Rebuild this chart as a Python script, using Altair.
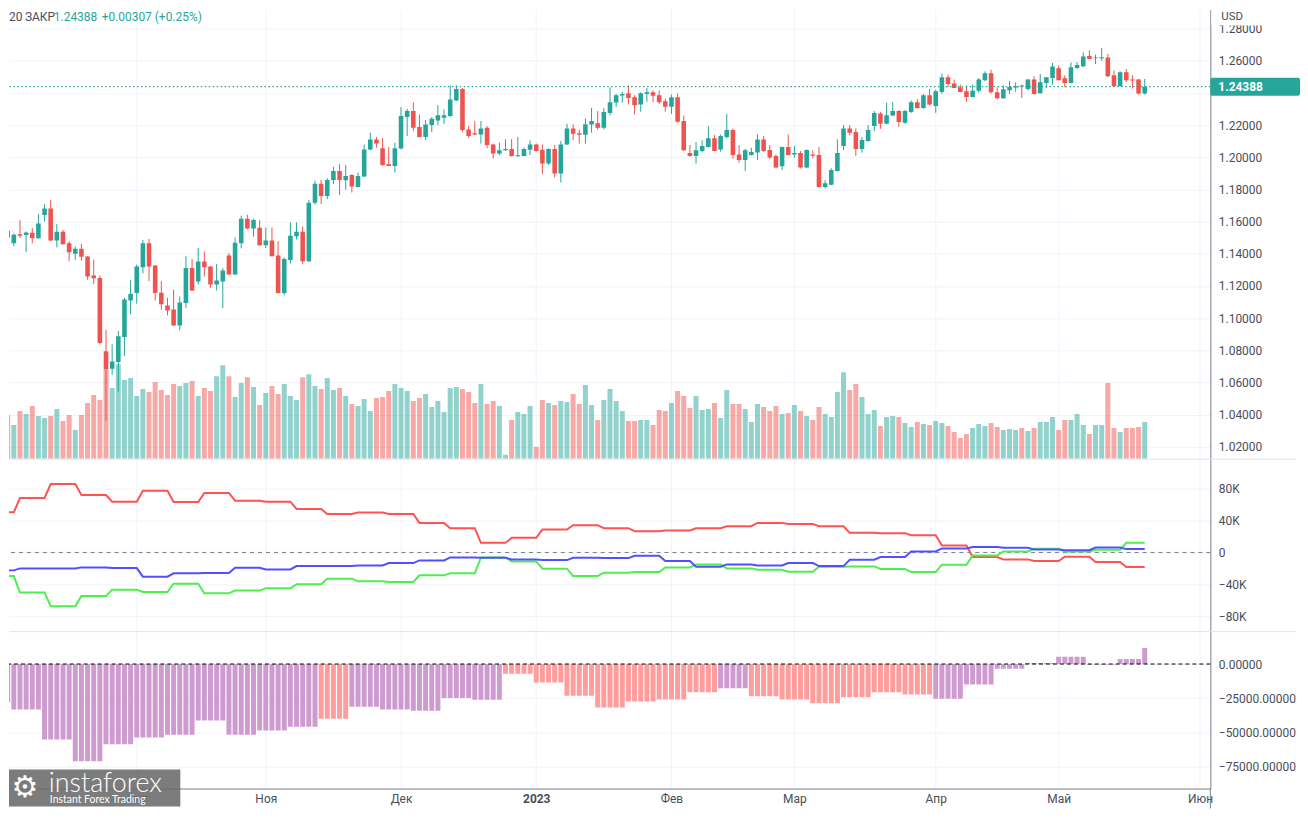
import altair as alt
import pandas as pd
import numpy as np

# ---------------- data (GBP/USD daily) ----------------
open_ = [
    1.1622, 1.1544, 1.1465, 1.1521, 1.1517, 1.1531, 1.1496, 1.1641, 1.1682, 1.1482,
    1.1537, 1.1465, 1.1401, 1.1432, 1.1383, 1.1265, 1.1250, 1.0794, 1.0685, 1.0728,
    1.0883, 1.1110, 1.1156, 1.1317, 1.1465, 1.1327, 1.1158, 1.1079, 1.1054, 1.0955,
    1.1094, 1.1312, 1.1228, 1.1352, 1.1321, 1.1209, 1.1228, 1.1389, 1.1271, 1.1465,
    1.1618, 1.1558, 1.1562, 1.1453, 1.1482, 1.1389, 1.1156, 1.1362, 1.1509, 1.1537,
    1.1354, 1.1717, 1.1835, 1.1760, 1.1858, 1.1915, 1.1857, 1.1890, 1.1816, 1.1880,
    1.2049, 1.2111, 1.2056, 1.1956, 1.1946, 1.2054, 1.2250, 1.2287, 1.2188, 1.2126,
    1.2200, 1.2229, 1.2245, 1.2256, 1.2353, 1.2425, 1.2173, 1.2150, 1.2142, 1.2184,
    1.2080, 1.2023, 1.2043, 1.2051, 1.2008, 1.2008, 1.2047, 1.2080, 1.2047, 1.1961,
    1.2051, 1.1899, 1.2080, 1.2179, 1.2150, 1.2140, 1.2204, 1.2212, 1.2184, 1.2276,
    1.2340, 1.2384, 1.2398, 1.2373, 1.2328, 1.2394, 1.2404, 1.2386, 1.2349, 1.2314,
    1.2373, 1.2225, 1.2027, 1.2008, 1.2039, 1.2064, 1.2118, 1.2049, 1.2126, 1.2169,
    1.2018, 1.1983, 1.2014, 1.2029, 1.2111, 1.2045, 1.2008, 1.1944, 1.2064, 1.2018,
    1.2027, 1.1936, 1.2018, 1.2014, 1.1816, 1.1829, 1.1915, 1.2070, 1.2179, 1.2157,
    1.2051, 1.2101, 1.2194, 1.2272, 1.2208, 1.2260, 1.2287, 1.2214, 1.2281, 1.2342,
    1.2307, 1.2386, 1.2318, 1.2406, 1.2497, 1.2458, 1.2435, 1.2410, 1.2375, 1.2414,
    1.2479, 1.2522, 1.2404, 1.2367, 1.2417, 1.2433, 1.2446, 1.2425, 1.2483, 1.2398,
    1.2462, 1.2493, 1.2553, 1.2491, 1.2462, 1.2555, 1.2566, 1.2629, 1.2615, 1.2617,
    1.2621, 1.2510, 1.2442, 1.2528, 1.2483, 1.2483, 1.2396,
]
high = [
    1.1626, 1.1585, 1.1527, 1.1610, 1.1539, 1.1560, 1.1647, 1.1709, 1.1734, 1.1585,
    1.1548, 1.1478, 1.1445, 1.1461, 1.1385, 1.1364, 1.1265, 1.0928, 1.0838, 1.0920,
    1.1127, 1.1238, 1.1333, 1.1486, 1.1492, 1.1329, 1.1230, 1.1127, 1.1178, 1.1135,
    1.1385, 1.1368, 1.1436, 1.1414, 1.1323, 1.1337, 1.1310, 1.1405, 1.1502, 1.1637,
    1.1643, 1.1618, 1.1610, 1.1562, 1.1564, 1.1478, 1.1378, 1.1595, 1.1595, 1.1570,
    1.1734, 1.1855, 1.1860, 1.1870, 1.1940, 1.1957, 1.1952, 1.1895, 1.1905, 1.2080,
    1.2153, 1.2126, 1.2118, 1.2064, 1.2091, 1.2311, 1.2301, 1.2342, 1.2266, 1.2231,
    1.2250, 1.2324, 1.2297, 1.2446, 1.2448, 1.2431, 1.2194, 1.2225, 1.2225, 1.2194,
    1.2085, 1.2091, 1.2111, 1.2113, 1.2126, 1.2060, 1.2105, 1.2085, 1.2080, 1.2056,
    1.2076, 1.2101, 1.2208, 1.2204, 1.2173, 1.2241, 1.2307, 1.2287, 1.2307, 1.2435,
    1.2394, 1.2406, 1.2448, 1.2386, 1.2404, 1.2431, 1.2415, 1.2415, 1.2365, 1.2390,
    1.2396, 1.2260, 1.2076, 1.2095, 1.2105, 1.2194, 1.2138, 1.2142, 1.2270, 1.2179,
    1.2076, 1.2053, 1.2060, 1.2142, 1.2132, 1.2076, 1.2018, 1.2066, 1.2142, 1.2070,
    1.2039, 1.2049, 1.2043, 1.2064, 1.1857, 1.1932, 1.2111, 1.2200, 1.2200, 1.2179,
    1.2126, 1.2200, 1.2287, 1.2283, 1.2338, 1.2342, 1.2293, 1.2295, 1.2353, 1.2363,
    1.2394, 1.2425, 1.2421, 1.2520, 1.2514, 1.2483, 1.2452, 1.2446, 1.2452, 1.2493,
    1.2534, 1.2545, 1.2435, 1.2446, 1.2473, 1.2466, 1.2452, 1.2487, 1.2504, 1.2518,
    1.2497, 1.2586, 1.2570, 1.2510, 1.2590, 1.2592, 1.2652, 1.2665, 1.2638, 1.2679,
    1.2642, 1.2539, 1.2535, 1.2549, 1.2510, 1.2487, 1.2487,
]
low = [
    1.1502, 1.1498, 1.1447, 1.1498, 1.1410, 1.1465, 1.1494, 1.1601, 1.1480, 1.1440,
    1.1457, 1.1354, 1.1362, 1.1358, 1.1238, 1.1211, 1.0838, 1.0363, 1.0646, 1.0543,
    1.0766, 1.1024, 1.1090, 1.1279, 1.1230, 1.1110, 1.1052, 1.1017, 1.0953, 1.0924,
    1.1064, 1.1170, 1.1209, 1.1259, 1.1189, 1.1172, 1.1063, 1.1269, 1.1269, 1.1434,
    1.1552, 1.1506, 1.1451, 1.1436, 1.1383, 1.1154, 1.1143, 1.1340, 1.1490, 1.1337,
    1.1348, 1.1705, 1.1710, 1.1740, 1.1833, 1.1765, 1.1798, 1.1781, 1.1812, 1.1878,
    1.2043, 1.2060, 1.1946, 1.1944, 1.1905, 1.2049, 1.2132, 1.2163, 1.2124, 1.2107,
    1.2157, 1.2200, 1.2208, 1.2250, 1.2349, 1.2159, 1.2122, 1.2138, 1.2085, 1.2056,
    1.1992, 1.2014, 1.2039, 1.2004, 1.2004, 1.2005, 1.2014, 1.2035, 1.1895, 1.1952,
    1.1874, 1.1843, 1.2076, 1.2107, 1.2085, 1.2085, 1.2153, 1.2171, 1.2173, 1.2260,
    1.2314, 1.2339, 1.2328, 1.2266, 1.2283, 1.2345, 1.2342, 1.2332, 1.2283, 1.2270,
    1.2215, 1.2039, 1.2004, 1.1961, 1.2029, 1.2060, 1.2037, 1.2035, 1.2115, 1.1992,
    1.1967, 1.1915, 1.2010, 1.1983, 1.2033, 1.1987, 1.1932, 1.1921, 1.2012, 1.1998,
    1.1930, 1.1932, 1.1994, 1.1812, 1.1806, 1.1825, 1.1911, 1.2045, 1.2136, 1.2008,
    1.2029, 1.2097, 1.2163, 1.2177, 1.2204, 1.2256, 1.2190, 1.2208, 1.2276, 1.2301,
    1.2301, 1.2322, 1.2276, 1.2394, 1.2435, 1.2430, 1.2404, 1.2345, 1.2373, 1.2401,
    1.2473, 1.2396, 1.2359, 1.2363, 1.2394, 1.2407, 1.2369, 1.2415, 1.2390, 1.2396,
    1.2431, 1.2452, 1.2477, 1.2435, 1.2460, 1.2549, 1.2559, 1.2610, 1.2580, 1.2600,
    1.2499, 1.2440, 1.2440, 1.2468, 1.2427, 1.2390, 1.2390,
]
close = [
    1.1540, 1.1502, 1.1519, 1.1513, 1.1533, 1.1496, 1.1589, 1.1682, 1.1482, 1.1537,
    1.1459, 1.1410, 1.1432, 1.1381, 1.1259, 1.1248, 1.0846, 1.0683, 1.0730, 1.0887,
    1.1116, 1.1151, 1.1321, 1.1465, 1.1321, 1.1156, 1.1086, 1.1048, 1.0955, 1.1098,
    1.1312, 1.1172, 1.1352, 1.1317, 1.1209, 1.1234, 1.1296, 1.1271, 1.1469, 1.1618,
    1.1558, 1.1610, 1.1453, 1.1482, 1.1385, 1.1156, 1.1368, 1.1513, 1.1537, 1.1354,
    1.1717, 1.1835, 1.1760, 1.1858, 1.1915, 1.1858, 1.1884, 1.1818, 1.1884, 1.2049,
    1.2111, 1.2085, 1.1952, 1.1946, 1.2056, 1.2256, 1.2287, 1.2184, 1.2126, 1.2204,
    1.2239, 1.2262, 1.2262, 1.2359, 1.2425, 1.2169, 1.2132, 1.2142, 1.2179, 1.2076,
    1.2023, 1.2043, 1.2051, 1.2008, 1.2012, 1.2051, 1.2080, 1.2039, 1.1961, 1.2051,
    1.1899, 1.2080, 1.2179, 1.2146, 1.2140, 1.2206, 1.2225, 1.2184, 1.2281, 1.2342,
    1.2386, 1.2394, 1.2369, 1.2324, 1.2398, 1.2404, 1.2382, 1.2342, 1.2314, 1.2373,
    1.2221, 1.2043, 1.2008, 1.2043, 1.2070, 1.2118, 1.2039, 1.2132, 1.2169, 1.2014,
    1.1983, 1.2043, 1.2033, 1.2111, 1.2039, 1.1998, 1.1936, 1.2064, 1.2014, 1.2027,
    1.1936, 1.2045, 1.2010, 1.1816, 1.1839, 1.1921, 1.2027, 1.2179, 1.2153, 1.2051,
    1.2107, 1.2169, 1.2276, 1.2208, 1.2262, 1.2287, 1.2219, 1.2287, 1.2342, 1.2307,
    1.2386, 1.2328, 1.2411, 1.2497, 1.2456, 1.2431, 1.2406, 1.2375, 1.2414, 1.2483,
    1.2522, 1.2404, 1.2367, 1.2423, 1.2437, 1.2442, 1.2440, 1.2483, 1.2394, 1.2466,
    1.2497, 1.2565, 1.2479, 1.2462, 1.2559, 1.2574, 1.2627, 1.2611, 1.2621, 1.2621,
    1.2503, 1.2442, 1.2528, 1.2479, 1.2479, 1.2396, 1.24388,
]
# tick volume (thousands)
volume_k = [
    45, 44, 34, 48, 45, 53, 43, 41, 43, 50, 38, 44, 29, 44, 56, 64, 59, 90, 71, 95,
    79, 81, 63, 70, 67, 77, 69, 64, 75, 73, 76, 78, 63, 71, 68, 83, 94, 83, 62, 76,
    82, 72, 54, 66, 73, 65, 75, 63, 59, 82, 85, 73, 70, 81, 69, 71, 63, 55, 53, 60,
    48, 61, 62, 68, 75, 71, 68, 58, 61, 65, 52, 58, 47, 71, 72, 70, 67, 56, 75, 55,
    58, 53, 4, 39, 47, 45, 53, 12, 59, 56, 54, 58, 57, 65, 55, 74, 54, 39, 59, 70,
    58, 48, 38, 38, 39, 39, 34, 49, 48, 56, 68, 63, 51, 63, 49, 50, 56, 41, 69, 55,
    55, 50, 37, 55, 52, 48, 53, 45, 46, 54, 48, 43, 39, 52, 45, 42, 67, 87, 69, 75,
    62, 45, 49, 33, 42, 43, 42, 36, 32, 37, 35, 34, 38, 36, 33, 27, 21, 25, 31, 35,
    33, 36, 32, 29, 30, 29, 31, 28, 31, 37, 37, 42, 29, 39, 39, 45, 34, 25, 34, 34,
    76, 31, 27, 31, 31, 32, 37,
]
# weekly COT positions (steps on Tuesdays)
cot_red_w = [50400, 68300, 85800, 72100, 63700, 77500, 63300, 74600, 65000, 63700,
             54600, 48300, 50000, 48300, 37100, 30400, 12100, 18300, 28700, 34200,
             30400, 26700, 27500, 30400, 32900, 37100, 35800, 32900, 24600, 24200,
             21700, 8700, -5800, -8700, -10800, -5400, -12100, -18300]
cot_green_w = [-29600, -50400, -67500, -54600, -46700, -49600, -39200, -51250, -47900, -45000,
               -40000, -32900, -36250, -37100, -28750, -26250, -6250, -11250, -20400, -29600,
               -25400, -24600, -18750, -15000, -20000, -21700, -24200, -17900, -17500, -20800,
               -24600, -15400, -3750, 1250, 4600, 1250, 3300, 12100]
cot_blue_w = [-22500, -20000, -20000, -18750, -19600, -30400, -26250, -25800, -19200, -21250,
              -17100, -17100, -16250, -13300, -10000, -6250, -6700, -8750, -9600, -6700,
              -7100, -4200, -10800, -17900, -15000, -16250, -13300, -17100, -9200, -5800,
              1250, 5000, 6700, 5800, 3750, 2900, 6250, 4200]
# weekly net-position histogram (steps on Mondays) + latest release
hist_w = [-27950, -33300, -55150, -71200, -58800, -53700, -51750, -41300, -51750, -48600,
          -45900, -40100, -31350, -33300, -34260, -24800, -26240, -7050, -13600, -23300,
          -31850, -27460, -26000, -20650, -17700, -23570, -26000, -28670, -24300, -20650,
          -22350, -25500, -15070, -3400, 700, 5350, -400, 3650]
hist_kind_w = ["p", "p", "p", "p", "p", "p", "p", "p", "p", "p",
               "p", "s", "p", "p", "p", "p", "p", "s", "s", "s",
               "s", "s", "s", "s", "p", "s", "s", "s", "s", "s",
               "s", "p", "p", "p", "p", "p", "p", "p"]
hist_latest = 11660

month_labels = ["Сен", "Окт", "Ноя", "Дек", "2023", "Фев", "Мар", "Апр", "Май", "Июн"]
price_ticks = [1.02, 1.04, 1.06, 1.08, 1.10, 1.12, 1.14, 1.16, 1.18, 1.20, 1.22, 1.24, 1.26, 1.28]
cot_ticks = [-80000, -40000, 0, 40000, 80000]
hist_ticks = [-75000, -50000, -25000, 0]

# ---------------- frames ----------------
N = len(close)
dates = pd.bdate_range("2022-09-01", periods=N)
df = pd.DataFrame({"i": np.arange(N), "date": dates.strftime("%Y-%m-%d"),
                   "open": open_, "high": high, "low": low, "close": close,
                   "vol": volume_k})
df["dir"] = np.where(df["close"] >= df["open"], "up", "down")
lo = np.minimum(df["open"], df["close"])
hi = np.maximum(df["open"], df["close"])
mid = (lo + hi) / 2
thin = (hi - lo) < 0.0006
df["b_lo"] = np.where(thin, mid - 0.0003, lo)
df["b_hi"] = np.where(thin, mid + 0.0003, hi)

wk_line = (df["i"] + 2) // 5
cot = pd.concat([
    pd.DataFrame({"i": df["i"], "v": [cot_red_w[k] for k in wk_line], "s": "a_red"}),
    pd.DataFrame({"i": df["i"], "v": [cot_green_w[k] for k in wk_line], "s": "b_green"}),
    pd.DataFrame({"i": df["i"], "v": [cot_blue_w[k] for k in wk_line], "s": "c_blue"}),
])
wk_hist = np.minimum((df["i"] + 3) // 5, len(hist_w) - 1)
hist = pd.DataFrame({"i": df["i"],
                     "h": [hist_w[k] for k in wk_hist],
                     "k": [hist_kind_w[k] for k in wk_hist]})
hist.loc[hist.index[-1], "h"] = hist_latest
hist.loc[hist.index[-1], "k"] = "p"

all_days = pd.bdate_range("2022-09-01", "2023-06-30")
firsts = all_days.to_series().groupby(all_days.to_period("M")).first()
tick_idx = [int(all_days.get_loc(d)) for d in firsts][:len(month_labels)]
ticks_df = pd.DataFrame({"i": tick_idx, "lab": month_labels})
XDOM = [1.2156, 196.68]
# only months whose start lies inside the visible window get an axis label
lab_idx = [i for i in tick_idx if i >= XDOM[0]]
label_expr = " : ".join(f"datum.value == {i} ? '{l}'" for i, l in zip(tick_idx, month_labels)) + " : ''"
jan_idx = tick_idx[month_labels.index("2023")]

last_close = close[-1]
tag_df = pd.DataFrame({"p": [last_close], "top": [last_close + 0.0056],
                       "bot": [last_close - 0.0056], "lab": [f"{last_close:.5f}"]})

# ---------------- style ----------------
FONT = "Roboto"
TEAL = "#26a69a"
RED = "#ef5350"
GRID = "#f0f3fa"
AXIS = "#787b86"
TXT = "#4a4d57"
SEP = "#e0e3eb"
W = 1206
H1, H2, H3 = 451, 173, 158

xs = alt.Scale(domain=XDOM, nice=False, zero=False, padding=0)
X0 = alt.X("i:Q", scale=xs, axis=None)
dir_scale = alt.Scale(domain=["up", "down"], range=[TEAL, RED])


def right_axis(values, **kw):
    return alt.Axis(orient="right", values=values, grid=True, gridColor=GRID, ticks=False,
                    domain=True, domainColor=AXIS, labelPadding=8, labelFont=FONT,
                    labelFontSize=12, labelColor=TXT, title=None, labelOverlap=False,
                    labelBound=False, labelFlush=False, **kw)


def vgrid():
    return alt.Chart(ticks_df).mark_rule(color=GRID, strokeWidth=1, clip=True).encode(x=X0)


# ---------------- panel 1: price ----------------
price_scale = alt.Scale(domain=[1.01257, 1.29183], nice=False, zero=False, padding=0)
# the label under the last-price tag is hidden (grid line kept)
price_axis = right_axis(price_ticks,
                        labelExpr=f"abs(datum.value - {last_close}) < 0.006 ? '' : format(datum.value, '.5f')")

vol = alt.Chart(df).mark_bar(width=5, opacity=0.5, clip=True).encode(
    x=X0,
    y=alt.Y("vol:Q", scale=alt.Scale(domain=[0, 451], nice=False, padding=0), axis=None),
    color=alt.Color("dir:N", scale=dir_scale, legend=None),
)
wick = alt.Chart(df).mark_rule(strokeWidth=1, clip=True).encode(
    x=X0, y=alt.Y("low:Q", scale=price_scale, axis=price_axis), y2="high:Q",
    color=alt.Color("dir:N", scale=dir_scale, legend=None),
)
body = alt.Chart(df).mark_bar(width=4.6, clip=True).encode(
    x=X0, y=alt.Y("b_lo:Q", scale=price_scale, axis=price_axis), y2="b_hi:Q",
    color=alt.Color("dir:N", scale=dir_scale, legend=None),
)
pline = alt.Chart(tag_df).mark_rule(color=TEAL, strokeDash=[1.5, 2.5], strokeWidth=1.2).encode(
    y=alt.Y("p:Q", scale=price_scale, axis=price_axis))
tag_box = alt.Chart(tag_df).mark_rect(color=TEAL, cornerRadius=2).encode(
    x=alt.value(W), x2=alt.value(W + 90),
    y=alt.Y("top:Q", scale=price_scale, axis=price_axis), y2="bot:Q")
tag_txt = alt.Chart(tag_df).mark_text(align="left", baseline="middle", color="white",
                                       fontWeight="bold", fontSize=12, font=FONT).encode(
    x=alt.value(W + 8), y=alt.Y("p:Q", scale=price_scale, axis=price_axis), text="lab:N")
price_layer = alt.layer(wick, body, pline, tag_box, tag_txt)

one = pd.DataFrame({"a": [0]})
usd_bg = alt.Chart(one).mark_rect(color="white").encode(
    x=alt.value(W + 1), x2=alt.value(W + 86), y=alt.value(0), y2=alt.value(16))
usd = alt.Chart(one).mark_text(text="USD", align="left", baseline="middle", fontSize=11.5,
                               font=FONT, color=TXT).encode(x=alt.value(W + 11), y=alt.value(7))
hdr = [
    alt.Chart(one).mark_text(text="20", align="left", baseline="middle", fontSize=12,
                             font=FONT, color=TXT).encode(x=alt.value(0), y=alt.value(7)),
    alt.Chart(one).mark_text(text="ЗАКР", align="left", baseline="middle", fontSize=12,
                             font=FONT, color=TXT).encode(x=alt.value(16), y=alt.value(7)),
    alt.Chart(one).mark_text(text="1.24388", align="left", baseline="middle", fontSize=12,
                             font=FONT, color=TEAL).encode(x=alt.value(45), y=alt.value(7)),
    alt.Chart(one).mark_text(text="+0.00307 (+0.25%)", align="left", baseline="middle",
                             fontSize=12, font=FONT, color=TEAL).encode(x=alt.value(93), y=alt.value(7)),
]

p1 = alt.layer(vgrid(), vol, price_layer, usd_bg, usd, *hdr).resolve_scale(
    y="independent").properties(width=W, height=H1)

# ---------------- panel 2: COT lines ----------------
cot_scale = alt.Scale(domain=[-98750, 117500], nice=False, zero=False, padding=0)
cot_axis = right_axis(cot_ticks, labelExpr="datum.value == 0 ? '0' : (datum.value < 0 ? '−' : '') + format(abs(datum.value) / 1000, 'd') + 'K'")
sep2 = alt.Chart(one).mark_rule(color=SEP, strokeWidth=1).encode(
    x=alt.value(0), x2=alt.value(W + 86), y=alt.value(0.5))
zero2 = alt.Chart(pd.DataFrame({"z": [0]})).mark_rule(color=AXIS, strokeDash=[4, 4], strokeWidth=1).encode(
    y=alt.Y("z:Q", scale=cot_scale, axis=cot_axis))
lines = alt.Chart(cot).mark_line(strokeWidth=2, clip=True).encode(
    x=X0, y=alt.Y("v:Q", scale=cot_scale, axis=cot_axis),
    color=alt.Color("s:N", scale=alt.Scale(domain=["a_red", "b_green", "c_blue"],
                                           range=["#ff5252", "#4cf04c", "#5050ff"]), legend=None),
    order="s:N",
)
p2 = alt.layer(vgrid(), zero2, lines, sep2).properties(width=W, height=H2)

# ---------------- panel 3: histogram ----------------
hist_scale = alt.Scale(domain=[-91125, 24060], nice=False, zero=False, padding=0)
hist_axis = right_axis(hist_ticks, labelExpr="datum.value == 0 ? '0.00000' : '−' + format(abs(datum.value), '.5f')")
x_axis = alt.Axis(values=lab_idx, labelExpr=label_expr, grid=False, ticks=False, domain=True,
                  domainColor=AXIS, labelFont=FONT, labelFontSize=12, labelColor=TXT,
                  labelPadding=5, title=None, labelFlush=False, labelOverlap=False, labelBound=False,
                  labelFontWeight={"condition": {"test": f"datum.value == {jan_idx}", "value": "bold"},
                                   "value": "normal"})
X3 = alt.X("i:Q", scale=xs, axis=x_axis)
grid3 = alt.Chart(ticks_df).mark_rule(color=GRID, strokeWidth=1, clip=True).encode(x=X3)
bars = alt.Chart(hist).mark_bar(width=5, clip=True).encode(
    x=X3, y=alt.Y("h:Q", scale=hist_scale, axis=hist_axis), y2=alt.datum(0),
    color=alt.Color("k:N", scale=alt.Scale(domain=["p", "s"], range=["#ce9bd0", "#ff9c9c"]), legend=None),
)
zero3 = alt.Chart(pd.DataFrame({"z": [0]})).mark_rule(color="#000000", strokeDash=[4, 3], strokeWidth=1).encode(
    y=alt.Y("z:Q", scale=hist_scale, axis=hist_axis))
sep3 = alt.Chart(one).mark_rule(color=SEP, strokeWidth=1).encode(
    x=alt.value(0), x2=alt.value(W + 86), y=alt.value(0.5))
axis_ext = alt.Chart(one).mark_rule(color=AXIS, strokeWidth=1).encode(
    x=alt.value(W), y=alt.value(H3), y2=alt.value(H3 + 20))
logo_box = alt.Chart(one).mark_rect(color="#6a6a6a", opacity=0.88).encode(
    x=alt.value(0), x2=alt.value(172), y=alt.value(H3 - 19), y2=alt.value(H3 + 18))
logo_gear = alt.Chart(one).mark_text(text="⚙", fontSize=30, color="white", font="DejaVu Sans",
                                     align="center", baseline="middle").encode(
    x=alt.value(16), y=alt.value(H3 - 1))
logo_name = alt.Chart(one).mark_text(text="instaforex", fontSize=27, color="white", font="Lato",
                                     fontWeight=300, align="left", baseline="alphabetic").encode(
    x=alt.value(40), y=alt.value(H3 + 3))
logo_sub = alt.Chart(one).mark_text(text="Instant Forex Trading", fontSize=10.5, color="white",
                                    font="Lato", align="left", baseline="alphabetic").encode(
    x=alt.value(41), y=alt.value(H3 + 15))
p3 = alt.layer(grid3, bars, zero3, sep3, axis_ext, logo_box, logo_gear, logo_name, logo_sub).properties(
    width=W, height=H3)

chart = alt.vconcat(p1, p2, p3, spacing=0).resolve_scale(color="independent").properties(
    padding={"left": 0, "top": 0, "right": 0, "bottom": 0},
    background="white",
).configure_view(stroke=None)

chart.save("out.html", embed_options={"renderer": "svg", "actions": False})
